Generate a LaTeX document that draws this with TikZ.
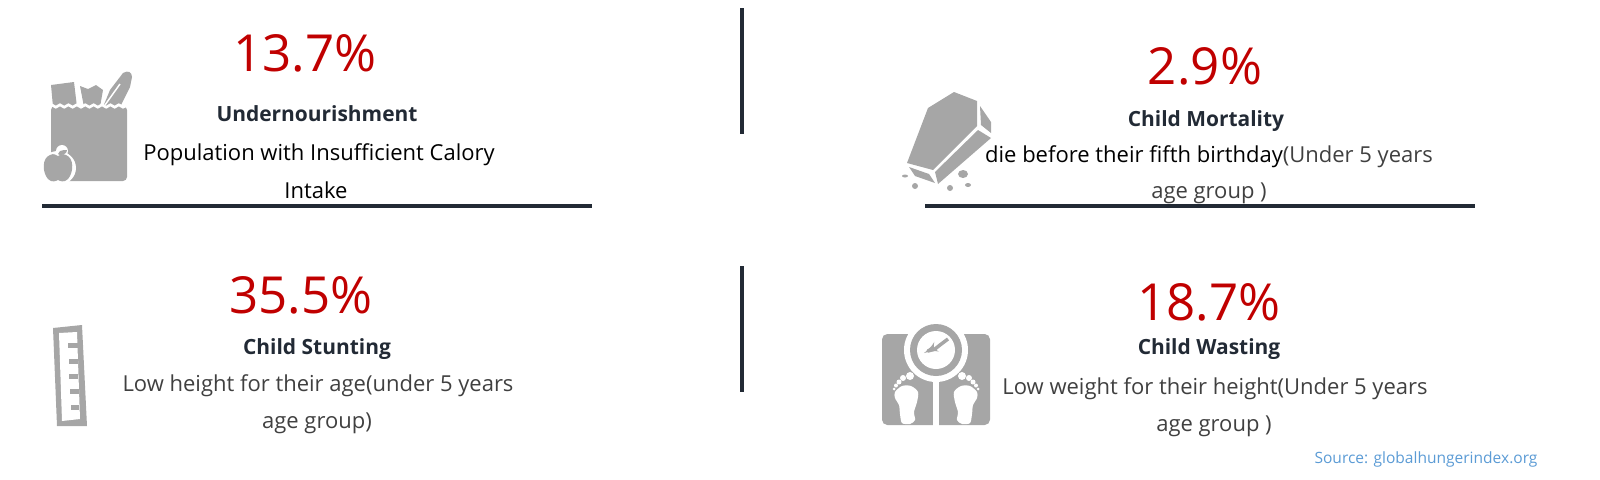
\documentclass[tikz,border=0pt]{standalone}
\usepackage{fontspec}
\setmainfont{Open Sans}
\usetikzlibrary{arrows,decorations.pathmorphing}
\definecolor{pctred}{HTML}{C00000}
\definecolor{headdark}{HTML}{222A35}
\definecolor{bodygray}{HTML}{404040}
\definecolor{icongray}{HTML}{A6A6A6}
\definecolor{srcblue}{HTML}{5B9BD5}
\tikzset{%
  pct/.style   = {text=pctred, font=\fontsize{38.3}{44}\selectfont, inner sep=0pt},
  head/.style  = {text=headdark, font=\fontsize{15.7}{20}\selectfont\bfseries, inner sep=0pt},
  body/.style  = {text=bodygray, font=\fontsize{16.5}{20}\selectfont, inner sep=0pt},
  rule/.style  = {draw=headdark, line width=3pt},
  icon/.style  = {fill=icongray, draw=none},
  hole/.style  = {fill=white, draw=none},
  foot/.pic = {
    \fill[hole] plot[smooth cycle] coordinates {(-11,-8) (-4,-14) (5,-14) (12,-8) (11,2) (8,12) (9,20) (4,24) (-4,23) (-6,14) (-7,5) (-11,-2)};
    \fill[hole] (4,-24) circle (4);
    \fill[hole] (-3,-22) circle (3);
    \fill[hole] (-7,-18) circle (2.5);
    \fill[hole] (-10,-14.5) circle (2);
    \fill[hole] (-12,-11) circle (1.5);
  }
}

\begin{document}
\begin{tikzpicture}[x=0.75pt,y=-0.75pt]
\useasboundingbox (0,0) rectangle (1600,479);

\coordinate (hl_a) at (42,206);
\coordinate (hr_a) at (592,206);
\coordinate (hl_b) at (925,206);
\coordinate (hr_b) at (1475,206);
\coordinate (vt_a) at (742,8);
\coordinate (vb_a) at (742,134);
\coordinate (vt_b) at (742,266);
\coordinate (vb_b) at (742,392);

\draw [rule] (hl_a) -- (hr_a);
\draw [rule] (hl_b) -- (hr_b);
\draw [rule] (vt_a) -- (vb_a);
\draw [rule] (vt_b) -- (vb_b);

\node [pct] (under_pct) at (305,53) {13.7\%};
\node [head] (under_head) at (317,114) {Undernourishment};
\node [body, text=black] (under_a) at (319,155) {Population with Insufficient Calory};
\node [body, text=black] (under_b) at (316,190) {Intake};

\node [pct] (mort_pct) at (1205,66) {2.9\%};
\node [head] (mort_head) at (1206,121) {Child Mortality};
\node [body] (mort_a) at (1209,157) {\textcolor{black}{die before their fifth birthday}(Under 5 years};
\node [body] (mort_b) at (1209,193) {age group )};

\node [pct] (stunt_pct) at (301,295) {35.5\%};
\node [head] (stunt_head) at (317,349) {Child Stunting};
\node [body] (stunt_a) at (318,386) {Low height for their age(under 5 years};
\node [body] (stunt_b) at (317,423) {age group)};

\node [pct] (wast_pct) at (1209,302) {18.7\%};
\node [head] (wast_head) at (1209,349) {Child Wasting};
\node [body] (wast_a) at (1215,389) {Low weight for their height(Under 5 years};
\node [body] (wast_b) at (1214,426) {age group )};

\node [text=srcblue, font=\fontsize{11.65}{15}\selectfont, inner sep=0pt] (source) at (1426,459) {Source: globalhungerindex.org};

% grocery bag
\fill[icon] (51,85) -- (74,82) -- (77,107) -- (53,107) -- cycle;
\fill[icon] (80,86) -- (88,89) -- (96,85) -- (103,90) -- (100,107) -- (84,107) -- cycle;
\fill[icon] (103,107) -- (110,90) -- (123,73) .. controls (128,70) and (132,72) .. (132,77) -- (130,87) -- (120,107) -- cycle;
\draw[white, line width=1.1pt] (105,105) -- (120,84);
\fill[icon, rounded corners=3pt] (51,106) rectangle (127,181);
\draw[white, line width=2pt, decorate, decoration={snake, segment length=6.3pt, amplitude=0.9pt}] (49,106) -- (129,106);
% apple
\fill[hole] (58,168) ellipse (18 and 17);
\fill[hole] (62,151) circle (6);
\fill[icon] (50,155) .. controls (54,153) and (56,155) .. (58,156) .. controls (60,155) and (62,153) .. (66,155) .. controls (74,158) and (74,172) .. (68,179) .. controls (64,183) and (60,181) .. (58,180) .. controls (56,181) and (52,183) .. (48,179) .. controls (42,172) and (42,158) .. (50,155) -- cycle;
\fill[icon] (58,154) -- (60,151) .. controls (62,149) and (65,151) .. (67,150) .. controls (67,153) and (64,155) .. (60,155) -- cycle;

% coffin
\fill[icon] (907,163) -- (928,108) -- (954,92) -- (977,101) -- (977,126) -- (933,170) -- cycle;
\fill[icon] (980,106) -- (991,122) -- (991,133) -- (981,125) -- cycle;
\fill[icon] (935,172) -- (978,130) -- (991,138) -- (938,184) -- cycle;
\fill[icon] (909,167) -- (929,174) -- (935,183) -- (915,176) -- cycle;
\fill[icon] (905,176) ellipse (3 and 1.5);
\fill[icon] (915,186) circle (3);
\fill[icon] (950,188) circle (3);
\fill[icon] (963,174) ellipse (5 and 4);
\fill[icon] (968,185) ellipse (3 and 2);

% ruler
\fill[icon] (53,328) -- (82,325) -- (87,426) -- (57,426) -- cycle;
\fill[hole] (59,333) -- (77,332) -- (80,419) -- (62,421) -- cycle;
\foreach \ty/\tl in {345/68,361/69,376/69,391/70,407/71}
  \fill[icon] (\tl,\ty-2.5) rectangle (78+\ty/60-6,\ty+2.5);

% scale
\fill[icon, rounded corners=4pt] (882,334) rectangle (990,425);
\fill[hole] (933,350) rectangle (939,426);
\fill[hole] (936,350) circle (32);
\fill[icon] (936,350) circle (26);
\fill[hole] (936,350) circle (19);
\draw[icongray, line width=2.6pt, -latex', line join=round] (948,339) -- (940,345) -- (935,349) -- (928,351) -- (924,353);
\pic at (906,400) {foot};
\pic [xscale=-1] at (966,400) {foot};

\end{tikzpicture}
\end{document}
